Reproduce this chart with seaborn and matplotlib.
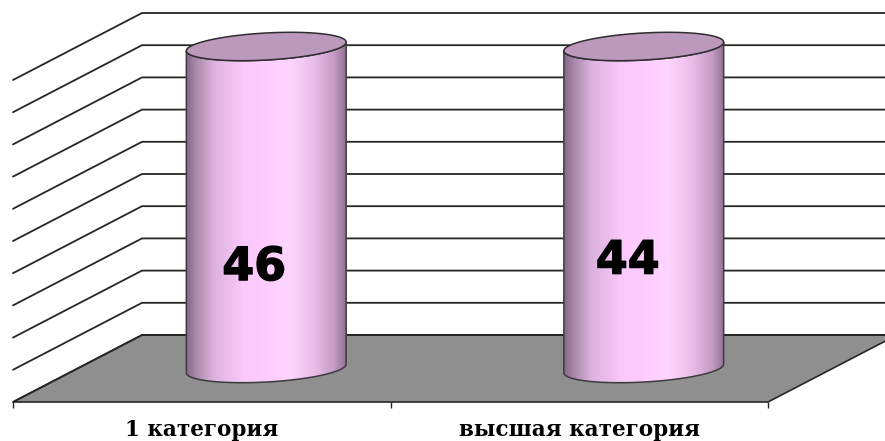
import numpy as np
import pandas as pd
import matplotlib
matplotlib.use("Agg")
import matplotlib.pyplot as plt
import matplotlib.patheffects as pe
import seaborn as sns
from matplotlib.colors import LinearSegmentedColormap
from matplotlib.patches import Polygon

categories = ["1 категория", "высшая категория"]
values = [46, 44]
axis_max = 40
grid_values = [0, 4, 8, 12, 16, 20, 24, 28, 32, 36, 40]

W, H = 885, 441
sns.set_theme(style="white")

fig = plt.figure(figsize=(W / 100, H / 100), dpi=100, facecolor="white")
# axes = front plane of the 3d box, depth is drawn outside of it
ax = fig.add_axes([13 / W, (H - 402) / H, 755 / W, 322 / H])

df = pd.DataFrame({"cat": categories, "val": np.minimum(values, axis_max)})
sns.barplot(data=df, x="cat", y="val", color="#ffccff", width=0.424, saturation=1, ax=ax, zorder=3)
ax.set_xlim(-0.5, 1.5)
ax.set_ylim(0, axis_max)

# pixels -> data
px_x = 2 / 755
px_y = axis_max / 322
depth_x = 129 * px_x
depth_y = 67 * px_y
line_col = "#262626"

floor = Polygon([(-0.5, 0), (1.5, 0), (1.5 + depth_x, depth_y), (-0.5 + depth_x, depth_y)],
                closed=True, fc="#8f8f8f", ec=line_col, lw=1.2, clip_on=False, zorder=1)
ax.add_patch(floor)

for g in grid_values:
    ax.plot([-0.5, -0.5 + depth_x, 1.5 + depth_x], [g, g + depth_y, g + depth_y],
            color=line_col, lw=1.3, clip_on=False, zorder=2)


def half_ellipse(cx, cy, a, b, tilt, n=80):
    # lower half, left to right, a and b in pixels
    t = np.linspace(np.pi, 2 * np.pi, n)
    xx = a * np.cos(t) * np.cos(tilt) - b * np.sin(t) * np.sin(tilt)
    yy = a * np.cos(t) * np.sin(tilt) + b * np.sin(t) * np.cos(tilt)
    return np.column_stack([cx + xx * px_x, cy + yy * px_y])


shade = LinearSegmentedColormap.from_list("cyl", [
    (0.0, "#86688a"), (0.06, "#a988aa"), (0.17, "#dcb2dc"), (0.35, "#fac8fa"),
    (0.5, "#ffccff"), (0.65, "#fed6fe"), (0.8, "#e8bce8"), (0.92, "#c59cc5"),
    (1.0, "#8f6f92")])
gradient = np.linspace(0, 1, 256).reshape(1, -1)

tilt = np.radians(3.2)
semi_b = 13.5
# cylinders stand in the middle of the floor depth
mid_x = depth_x / 2
mid_y = depth_y / 2
for bar in ax.patches:
    if bar is floor:
        continue
    left = bar.get_x() + mid_x
    width = bar.get_width()
    top = bar.get_height() + mid_y
    cx = left + width / 2
    semi_a = width / 2 / px_x
    bottom_edge = half_ellipse(cx, mid_y, semi_a, semi_b, tilt)
    top_edge = half_ellipse(cx, top, semi_a, semi_b, tilt)
    body = Polygon(np.vstack([bottom_edge, top_edge[::-1]]), closed=True, fc="none",
                   ec="#3c3c3c", lw=1.1, clip_on=False, zorder=5)
    ax.add_patch(body)
    bar.set_x(left)
    bar.set_y(mid_y)
    bar.set_clip_path(body)
    bar.set_clip_box(fig.bbox)
    img = ax.imshow(gradient, cmap=shade, aspect="auto", zorder=4,
                    extent=[left, left + width, -5, top + 5])
    img.set_clip_path(body)
    img.set_clip_box(fig.bbox)
    t = np.linspace(0, 2 * np.pi, 160)
    cap = np.column_stack([
        cx + (semi_a * np.cos(t) * np.cos(tilt) - semi_b * np.sin(t) * np.sin(tilt)) * px_x,
        top + (semi_a * np.cos(t) * np.sin(tilt) + semi_b * np.sin(t) * np.cos(tilt)) * px_y])
    ax.add_patch(Polygon(cap, closed=True, fc="#bc98bc", ec="#2e2e2e", lw=1.1,
                         clip_on=False, zorder=6))

ax.set_xlim(-0.5, 1.5)
ax.set_ylim(0, axis_max)

# value labels sit by hand inside the cylinders
label_shift = [(-12, 16.7), (-16, 17.5)]
for i, val in enumerate(values):
    ax.text(i + mid_x + label_shift[i][0] * px_x, label_shift[i][1], str(val),
            ha="center", va="center", fontsize=33, fontweight="bold",
            family="DejaVu Sans", color="black", zorder=7,
            path_effects=[pe.withStroke(linewidth=1, foreground="black")])

sns.despine(ax=ax, left=True, bottom=True, top=True, right=True)
ax.patch.set_visible(False)
ax.set_xlabel("")
ax.set_ylabel("")
ax.set_yticks([])
ax.set_xticks([0, 1])
ax.set_xticklabels(categories, family="DejaVu Serif", fontweight="bold", fontsize=15.5, color="black")
ax.set_xticks([-0.5, 0.5, 1.5], minor=True)
ax.tick_params(axis="x", which="major", length=0, pad=12)
ax.tick_params(axis="x", which="minor", length=4.5, width=1, color=line_col, bottom=True)

fig.savefig("out.png", dpi=100)
